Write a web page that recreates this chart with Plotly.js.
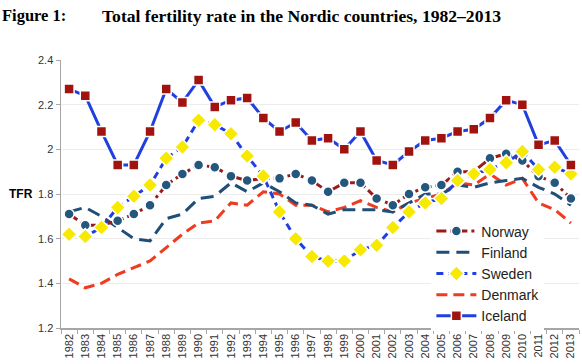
<!DOCTYPE html>
<html><head><meta charset="utf-8">
<script src="https://cdn.plot.ly/plotly-3.0.1.min.js"></script>
<style>html,body{margin:0;padding:0;background:#fff}#chart{width:582px;height:364px}</style>
</head><body><div id="chart"></div>
<script>
const years = ["1982","1983","1984","1985","1986","1987","1988","1989","1990","1991","1992","1993","1994","1995","1996","1997","1998","1999","2000","2001","2002","2003","2004","2005","2006","2007","2008","2009","2010","2011","2012","2013"];
const norway  = [1.71,1.66,1.66,1.68,1.71,1.75,1.84,1.89,1.93,1.92,1.88,1.86,1.87,1.87,1.89,1.86,1.81,1.85,1.85,1.78,1.75,1.80,1.83,1.84,1.90,1.90,1.96,1.98,1.95,1.88,1.85,1.78];
const finland = [1.72,1.74,1.70,1.65,1.60,1.59,1.69,1.71,1.78,1.79,1.85,1.81,1.85,1.81,1.76,1.75,1.71,1.73,1.73,1.73,1.72,1.76,1.80,1.80,1.84,1.83,1.85,1.86,1.87,1.83,1.80,1.75];
const sweden  = [1.62,1.61,1.65,1.74,1.79,1.84,1.96,2.01,2.13,2.11,2.07,1.97,1.88,1.72,1.60,1.52,1.50,1.50,1.55,1.57,1.65,1.72,1.76,1.78,1.86,1.89,1.91,1.94,1.99,1.91,1.92,1.89];
const denmark = [1.42,1.38,1.40,1.44,1.47,1.50,1.56,1.62,1.67,1.68,1.76,1.75,1.81,1.80,1.75,1.75,1.72,1.74,1.77,1.74,1.72,1.76,1.78,1.80,1.85,1.84,1.89,1.84,1.87,1.76,1.73,1.67];
const iceland = [2.27,2.24,2.08,1.93,1.93,2.08,2.27,2.21,2.31,2.19,2.22,2.23,2.14,2.08,2.12,2.04,2.05,2.00,2.08,1.95,1.93,1.99,2.04,2.05,2.08,2.09,2.14,2.22,2.20,2.02,2.04,1.93];
const yTicks = [1.2,1.4,1.6,1.8,2,2.2,2.4];
const yTickText = ["1.2","1.4","1.6","1.8","2","2.2","2.4"];

const traces = [
  {name:"Denmark", x:years, y:denmark, mode:"lines", legendrank:4,
   line:{color:"#ef3b1f", width:3, dash:"11px,6px"}},
  {name:"Finland", x:years, y:finland, mode:"lines", legendrank:2,
   line:{color:"#1f4e79", width:3, dash:"13px,7px"}},
  {name:"Norway", x:years, y:norway, mode:"lines+markers", legendrank:1,
   line:{color:"#9b1b1b", width:3, dash:"10px,4px,3px,4px"},
   marker:{symbol:"circle", size:10, color:"#23577d", line:{color:"#ffffff", width:1.5}}},
  {name:"Sweden", x:years, y:sweden, mode:"lines+markers", legendrank:3,
   line:{color:"#1f3fe0", width:3, dash:"7px,5px"},
   marker:{symbol:"diamond", size:12, color:"#f7ea00", line:{color:"#ffffff", width:1.5}}},
  {name:"Iceland", x:years, y:iceland, mode:"lines+markers", legendrank:5,
   line:{color:"#1f3fe0", width:3},
   marker:{symbol:"square", size:10, color:"#a0130f", line:{color:"#ffffff", width:1.5}}}
];

const layout = {
  width:582, height:364,
  margin:{l:61, r:3, t:60, b:36},
  paper_bgcolor:"#ffffff", plot_bgcolor:"#ffffff",
  font:{family:"Liberation Sans, Arial, sans-serif", color:"#333333", size:11},
  showlegend:true,
  legend:{x:0.715, y:0.42, xanchor:"left", yanchor:"top", bgcolor:"#ffffff",
    font:{size:14, color:"#222"}, tracegroupgap:0, itemwidth:40},
  xaxis:{type:"category", range:[-0.5,31.5], tickangle:-90, showgrid:false,
    showline:true, linecolor:"#a6a6a6", linewidth:1.5, ticks:"outside", tickson:"boundaries",
    ticklen:4, tickcolor:"#a6a6a6", tickfont:{size:11, color:"#333"}, fixedrange:true, zeroline:false},
  yaxis:{range:[1.2,2.4], tickvals:yTicks, ticktext:yTickText, showgrid:true, gridcolor:"#ececec",
    showline:true, linecolor:"#a6a6a6", linewidth:1.5, ticks:"outside", ticklen:4, tickcolor:"#a6a6a6",
    tickfont:{size:11, color:"#333"}, zeroline:false, fixedrange:true},
  annotations:[
    {text:"<b>Figure 1:</b>", xref:"paper", yref:"paper", x:-0.1178, y:1.165, xanchor:"left", yanchor:"middle",
     showarrow:false, font:{family:"Liberation Serif, Times New Roman, serif", size:16.5, color:"#000"}},
    {text:"<b>Total fertility rate in the Nordic countries, 1982–2013</b>", xref:"paper", yref:"paper", x:0.0753, y:1.165,
     xanchor:"left", yanchor:"middle", showarrow:false, font:{family:"Liberation Serif, Times New Roman, serif", size:17.6, color:"#000"}},
    {text:"<b>TFR</b>", xref:"paper", yref:"y", x:-0.104, y:1.8, xanchor:"left", yanchor:"middle",
     showarrow:false, font:{size:12, color:"#000"}}
  ]
};
Plotly.newPlot("chart", traces, layout, {displayModeBar:false, staticPlot:true});
</script>
</body></html>
